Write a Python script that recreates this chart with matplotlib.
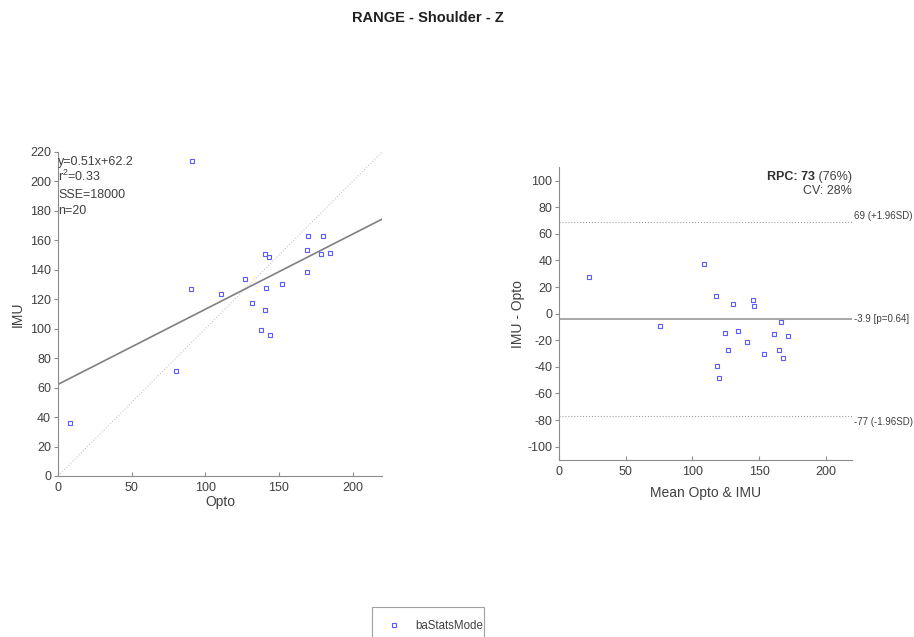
import numpy as np
import matplotlib
matplotlib.use('Agg')
import matplotlib.pyplot as plt
from matplotlib.lines import Line2D
from matplotlib.patches import Rectangle

plt.rcParams['font.family'] = ['Liberation Sans', 'DejaVu Sans']
plt.rcParams['axes.unicode_minus'] = False
plt.rcParams['mathtext.fontset'] = 'custom'
plt.rcParams['mathtext.rm'] = 'Liberation Sans'
plt.rcParams['mathtext.it'] = 'Liberation Sans:italic'
plt.rcParams['mathtext.bf'] = 'Liberation Sans:bold'

# range of motion per trial, optical reference vs IMU estimate
opto = [91, 90, 110.8, 126.9, 132, 140.5, 143.3, 141, 140.3, 138,
        144, 152, 169, 169.6, 169.4, 180, 178.5, 184.8, 80.2, 8.2]
imu = [214, 127, 123.8, 134, 117.3, 151, 149, 127.7, 112.7, 99,
       96, 130.4, 153.7, 163, 138.7, 163, 151, 151.2, 71.1, 35.8]

# reported statistics
fit_slope, fit_icpt = 0.51, 62.2
fit_text = ['y=0.51x+62.2', r'r$^2$=0.33', 'SSE=18000', 'n=20']
ba_mean, ba_hi, ba_lo = -3.9, 69, -77
ba_labels = ['-3.9 [p=0.64]', '69 (+1.96SD)', '-77 (-1.96SD)']

TXT = '#404040'
AX = '#8c8c8c'
MK = '#5a5aff'


def style_axes(ax):
    for s in ['top', 'right']:
        ax.spines[s].set_visible(False)
    for s in ['left', 'bottom']:
        ax.spines[s].set_color(AX)
        ax.spines[s].set_linewidth(0.8)
    ax.tick_params(length=3, colors=AX, labelcolor=TXT, labelsize=9)
    ax.tick_params(axis='x', direction='in', pad=4)
    ax.tick_params(axis='y', direction='out', pad=2)


fig = plt.figure(figsize=(9.14, 6.37), dpi=100)
fig.text(428 / 914, 1 - 18 / 637, 'RANGE - Shoulder - Z', ha='center', va='center',
         fontsize=10.5, fontweight='bold', color='#202020')

# correlation plot
ax1 = fig.add_axes([58 / 914, 1 - 476 / 637, 324 / 914, 324 / 637])
style_axes(ax1)
xs = np.array([0, 220])
ax1.plot(xs, xs, ls=':', color='#c8c8c8', lw=0.8)
ax1.plot(xs, fit_slope * xs + fit_icpt, color='#808080', lw=1.2)
ax1.plot(opto, imu, 's', mfc='none', mec=MK, ms=3.5, mew=0.8)
ax1.set_xlim(0, 220)
ax1.set_ylim(0, 220)
ax1.set_xticks([0, 50, 100, 150, 200])
ax1.set_yticks(range(0, 221, 20))
ax1.set_xlabel('Opto', fontsize=10, color=TXT, labelpad=1)
ax1.set_ylabel('IMU', fontsize=10, color=TXT, labelpad=4)
for i, t in enumerate(fit_text):
    ax1.text(0, 211.4 - i * 11.2, t, fontsize=9, color=TXT, va='baseline', ha='left')

# Bland-Altman plot
opto_a = np.array(opto)
imu_a = np.array(imu)
means = (opto_a + imu_a) / 2
diffs = imu_a - opto_a

ax2 = fig.add_axes([559.3 / 914, 1 - 460 / 637, 293 / 914, 292.7 / 637])
style_axes(ax2)
ax2.axhline(ba_hi, color='#a0a0a0', ls=':', lw=0.8)
ax2.axhline(ba_lo, color='#a0a0a0', ls=':', lw=0.8)
ax2.axhline(ba_mean, color='#a0a0a0', lw=1.3)
ax2.plot(means, diffs, 's', mfc='none', mec=MK, ms=3.5, mew=0.8)
ax2.set_xlim(0, 220)
ax2.set_ylim(-110, 110)
ax2.set_xticks([0, 50, 100, 150, 200])
ax2.set_yticks(range(-100, 101, 20))
ax2.set_xlabel('Mean Opto & IMU', fontsize=10, color=TXT, labelpad=6)
ax2.set_ylabel('IMU - Opto', fontsize=10, color=TXT, labelpad=2)

ax2.text(221, ba_mean, ba_labels[0], fontsize=7, color=TXT, va='center', ha='left')
ax2.text(221, ba_hi + 1, ba_labels[1], fontsize=7, color=TXT, va='bottom', ha='left')
ax2.text(221, ba_lo - 1, ba_labels[2], fontsize=7, color=TXT, va='top', ha='left')

pct = ax2.text(1.0, 0.967, ' (76%)', transform=ax2.transAxes,
               ha='right', va='center', fontsize=9, color=TXT)
ax2.annotate('RPC: 73', xy=(0, 0.5), xycoords=pct, ha='right', va='center',
             fontsize=9, fontweight='bold', color='#303030')
ax2.text(1.0, 0.919, 'CV: 28%', transform=ax2.transAxes,
         ha='right', va='center', fontsize=9, color=TXT)

# legend box runs off the bottom edge
fig.patches.append(Rectangle((372 / 914, -8 / 637), 112 / 914, 38 / 637,
                             transform=fig.transFigure, fill=False,
                             edgecolor='#a0a0a0', lw=0.8))
handle = Line2D([], [], ls='none', marker='s', mfc='none', mec=MK, ms=3.5, mew=0.8)
fig.legend([handle], ['baStatsMode'], loc='center left',
           bbox_to_anchor=(382.5 / 914, 1 - 626 / 637), fontsize=8.3,
           frameon=False, borderpad=0, handlelength=1.0,
           handletextpad=1.35, labelcolor=TXT)

fig.savefig('out.png', dpi=100)
